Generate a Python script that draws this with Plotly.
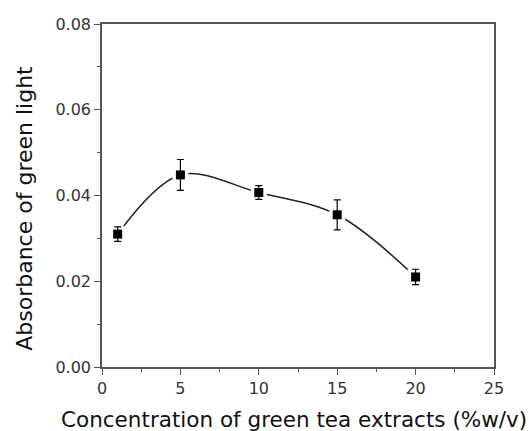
import plotly.graph_objects as go

conc = [1, 5, 10, 15, 20]
absorb = [0.0310, 0.0448, 0.0407, 0.0355, 0.0210]
err = [0.0017, 0.0036, 0.0016, 0.0035, 0.0018]

x_ticks = [0, 5, 10, 15, 20, 25]
y_ticks = [0.00, 0.02, 0.04, 0.06, 0.08]
y_tick_labels = ["0.00", "0.02", "0.04", "0.06", "0.08"]

x_title = "Concentration of green tea extracts (%w/v)"
y_title = "Absorbance of green light"

FONT = "DejaVu Sans"

fig = go.Figure()
fig.add_trace(go.Scatter(x=conc, y=absorb, mode="lines",
                         line=dict(color="#222222", width=1.5, shape="spline", smoothing=1.0),
                         hoverinfo="skip", showlegend=False))
fig.add_trace(go.Scatter(x=conc, y=absorb, mode="markers",
                         marker=dict(symbol="square", size=16, color="white"),
                         hoverinfo="skip", showlegend=False))
fig.add_trace(go.Scatter(x=conc, y=absorb, mode="markers",
                         marker=dict(symbol="square", size=9, color="black"),
                         error_y=dict(type="data", array=err, visible=True,
                                      color="black", thickness=1.2, width=3.5),
                         showlegend=False))

axis_common = dict(showline=True, linecolor="#555555", linewidth=1.5, mirror=True,
                   ticks="outside", ticklen=6, tickwidth=1.2, tickcolor="#555555",
                   showgrid=False, zeroline=False,
                   tickfont=dict(family=FONT, size=16, color="#333333"))

fig.update_xaxes(range=[0, 25], tickvals=x_ticks,
                 minor=dict(dtick=2.5, ticks="outside", ticklen=3, tickcolor="#555555"),
                 **axis_common)
fig.update_yaxes(range=[0, 0.08], tickvals=y_ticks, ticktext=y_tick_labels,
                 minor=dict(dtick=0.01, ticks="outside", ticklen=3, tickcolor="#555555"),
                 **axis_common)

fig.add_annotation(text=x_title, xref="paper", yref="paper", x=0.491, y=-0.152,
                   xanchor="center", yanchor="middle", showarrow=False,
                   font=dict(family=FONT, size=21.5, color="#111111"))
fig.add_annotation(text=y_title, xref="paper", yref="paper", x=-0.197, y=0.4636,
                   xanchor="center", yanchor="middle", showarrow=False, textangle=-90,
                   font=dict(family=FONT, size=22, color="#111111"))

fig.update_layout(width=529, height=431, margin=dict(l=102, r=35, t=24, b=64),
                  plot_bgcolor="white", paper_bgcolor="white")

fig.write_html("out.html")
